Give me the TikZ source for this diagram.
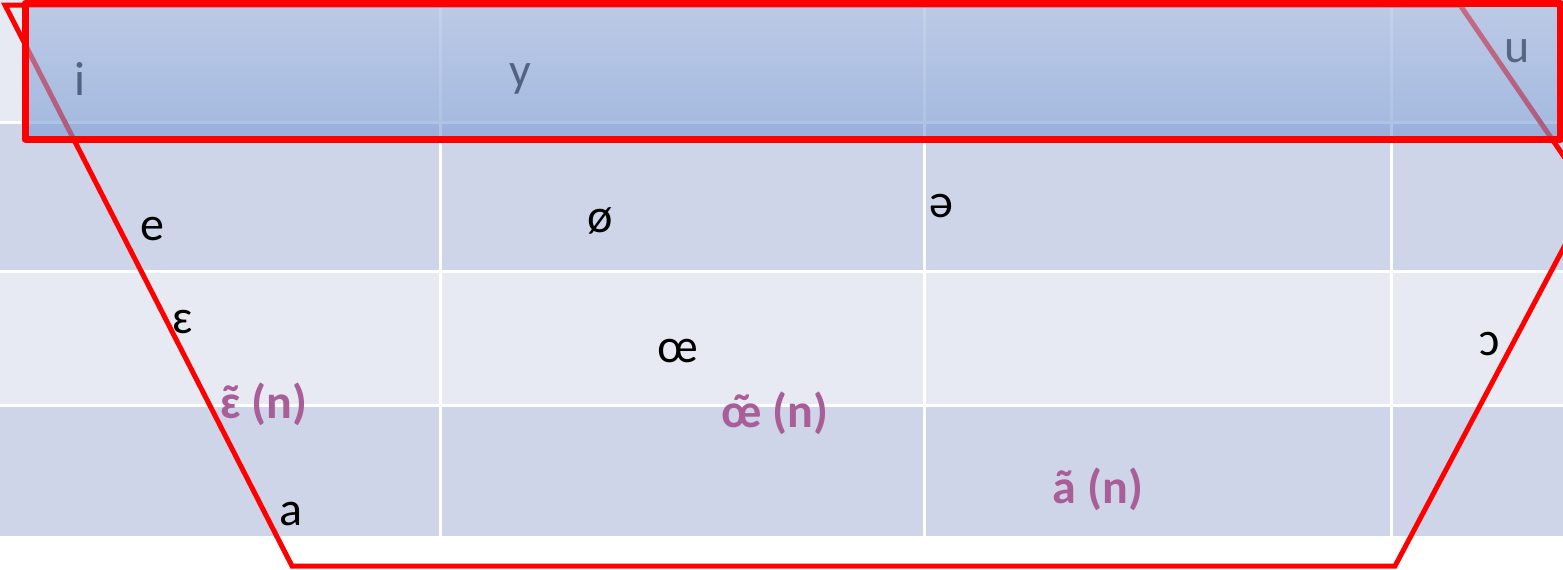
\documentclass[tikz,border=0pt]{standalone}
\usepackage{fontspec}
\setmainfont{Carlito}
\definecolor{rowlight}{RGB}{232,234,243}
\definecolor{rowdark}{RGB}{207,213,232}
\definecolor{hdtop}{RGB}{159,181,221}
\definecolor{hdbot}{RGB}{117,152,212}
\definecolor{nasal}{RGB}{170,94,152}
\newcommand{\nasaltilde}[1]{\accent"02DC #1}
\tikzset{
  vowel/.style={inner sep=0pt, anchor=base, font=\fontsize{48}{48}\selectfont, text=black},
  nasalv/.style={inner sep=0pt, anchor=base, font=\fontsize{48}{48}\selectfont\bfseries, text=nasal},
  gridline/.style={white, line width=3pt},
  redline/.style={red, line width=5pt, line join=miter},
  redbox/.style={red, line width=7pt, line join=round}
}
\begin{document}
\begin{tikzpicture}[x=1pt,y=-1pt]
\useasboundingbox (0,0) rectangle (1563,570);
\clip (0,0) rectangle (1563,570);
% table rows
\fill[rowlight] (0,0) rectangle (1563,122);
\fill[rowdark] (0,122) rectangle (1563,271);
\fill[rowlight] (0,271) rectangle (1563,405);
\fill[rowdark] (0,405) rectangle (1563,536);
% grid lines
\foreach \x in {440,924,1391} \draw[gridline] (\x,0) -- (\x,536);
\foreach \y in {122,271,405} \draw[gridline] (0,\y) -- (1563,\y);
% vowels
\node[vowel] (i) at (80,95) {i};
\node[vowel] (y) at (520,86) {y};
\node[vowel] (u) at (1517,62) {u};
\node[vowel] (e) at (152,240) {e};
\node[vowel] (oslash) at (600,232) {ø};
\node[vowel] (schwa) at (941,217) {ə};
\node[vowel] (epsilon) at (183,333) {ɛ};
\node[vowel] (oe) at (678,362) {œ};
\node[vowel] (openo) at (1490,355) {ɔ};
\node[vowel] (a) at (291,525) {a};
\node[nasalv] (epsnasal) at (264,418) {\nasaltilde{ɛ} (n)};
\node[nasalv] (oenasal) at (775,427) {\nasaltilde{œ} (n)};
\node[nasalv] (anasal) at (1098,503) {ã (n)};
% trapezoid
\draw[redline] (5,5) -- (1460,5) -- (1591,196) -- (1395,566) -- (292,566) -- cycle;
% header overlay
\shade[top color=hdtop, bottom color=hdbot, fill opacity=0.6] (25,4) rectangle (1560,139);
\draw[redbox] (25,3.5) rectangle (1560,139);
\end{tikzpicture}
\end{document}
